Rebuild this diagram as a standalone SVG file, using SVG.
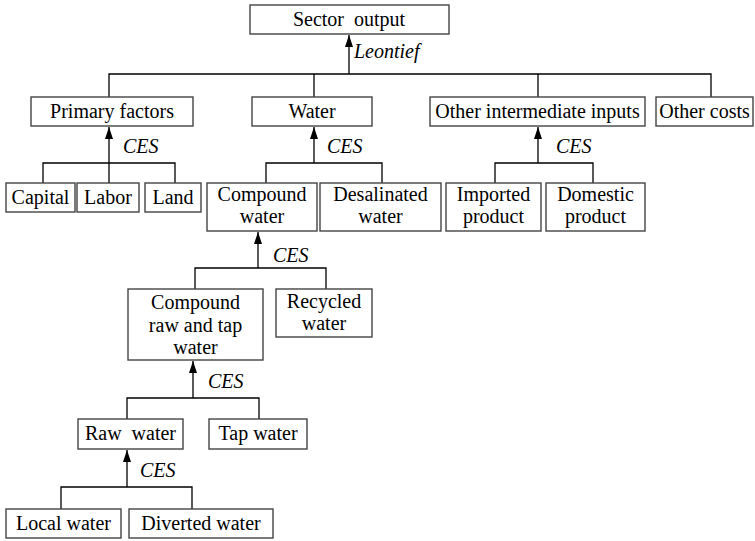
<svg xmlns="http://www.w3.org/2000/svg" width="755" height="541" viewBox="0 0 755 541" font-family="Liberation Serif, Times New Roman, DejaVu Serif, serif">
<defs>
<marker id="ah" viewBox="0 0 12 8" refX="12" refY="4" markerWidth="12" markerHeight="8" markerUnits="userSpaceOnUse" orient="auto">
<path d="M0,0 L12,4 L0,8 Z" fill="#000"/>
</marker>
<style>
rect{fill:#fff;stroke:#444;stroke-width:1.4}
text{font-size:20px;fill:#000;text-anchor:middle}
text.lab{font-style:italic;text-anchor:start}
.c path{fill:none;stroke:#000;stroke-width:1.3}
</style>
</defs>
<rect x="0" y="0" width="755" height="541" style="fill:#fff;stroke:none"/>
<g class="c" id="connectors">
<path d="M349,74 V35" marker-end="url(#ah)"/>
<path d="M109,97 V74 H711 V97 M314,74 V97 M538,74 V97"/>
<path d="M109,183 V127" marker-end="url(#ah)"/>
<path d="M43,183 V163 H175 V183"/>
<path d="M314,163 V127" marker-end="url(#ah)"/>
<path d="M266,183 V163 H382 V183"/>
<path d="M538,163 V127" marker-end="url(#ah)"/>
<path d="M495,183 V163 H593 V183"/>
<path d="M258,268 V232" marker-end="url(#ah)"/>
<path d="M195,289 V268 H326 V289"/>
<path d="M193,398 V361" marker-end="url(#ah)"/>
<path d="M127,419 V398 H259 V419"/>
<path d="M127,487 V450" marker-end="url(#ah)"/>
<path d="M61,509 V487 H192 V509"/>
</g>
<g id="labels">
<text class="lab" x="354" y="58">Leontief</text>
<text class="lab" x="123" y="153">CES</text>
<text class="lab" x="327" y="153">CES</text>
<text class="lab" x="556" y="153">CES</text>
<text class="lab" x="273" y="262">CES</text>
<text class="lab" x="208" y="388">CES</text>
<text class="lab" x="140" y="477">CES</text>
</g>
<g id="sector-output"><rect x="250" y="5" width="199" height="29"/><text x="349" y="26" xml:space="preserve">Sector  output</text></g>
<g id="primary-factors"><rect x="31" y="97" width="162" height="29"/><text x="112" y="118">Primary factors</text></g>
<g id="water"><rect x="252" y="97" width="120" height="29"/><text x="312" y="118">Water</text></g>
<g id="other-intermediate"><rect x="430" y="97" width="215" height="29"/><text x="537.5" y="118">Other intermediate inputs</text></g>
<g id="other-costs"><rect x="656" y="97" width="97" height="29"/><text x="704.5" y="118">Other costs</text></g>
<g id="capital"><rect x="6" y="183" width="69" height="29"/><text x="40.5" y="204">Capital</text></g>
<g id="labor"><rect x="77" y="183" width="62" height="29"/><text x="108" y="204">Labor</text></g>
<g id="land"><rect x="145" y="183" width="56" height="29"/><text x="173" y="204">Land</text></g>
<g id="compound-water"><rect x="207" y="183" width="110" height="48"/><text x="262" y="201">Compound</text><text x="262" y="223">water</text></g>
<g id="desalinated-water"><rect x="320" y="183" width="121" height="48"/><text x="380.5" y="201">Desalinated</text><text x="380.5" y="223">water</text></g>
<g id="imported-product"><rect x="446" y="183" width="95" height="48"/><text x="493.5" y="201">Imported</text><text x="493.5" y="223">product</text></g>
<g id="domestic-product"><rect x="546" y="183" width="99" height="48"/><text x="595.5" y="201">Domestic</text><text x="595.5" y="223">product</text></g>
<g id="compound-raw-tap"><rect x="128" y="289" width="135" height="71"/><text x="195.5" y="309">Compound</text><text x="195.5" y="332">raw and tap</text><text x="195.5" y="354">water</text></g>
<g id="recycled-water"><rect x="276" y="289" width="96" height="48"/><text x="324" y="308">Recycled</text><text x="324" y="330">water</text></g>
<g id="raw-water"><rect x="78" y="419" width="105" height="30"/><text x="130.5" y="440" xml:space="preserve">Raw  water</text></g>
<g id="tap-water"><rect x="209" y="419" width="98" height="30"/><text x="258" y="440">Tap water</text></g>
<g id="local-water"><rect x="6" y="509" width="115" height="29"/><text x="63.5" y="530">Local water</text></g>
<g id="diverted-water"><rect x="129" y="509" width="144" height="29"/><text x="201" y="530">Diverted water</text></g>
</svg>
